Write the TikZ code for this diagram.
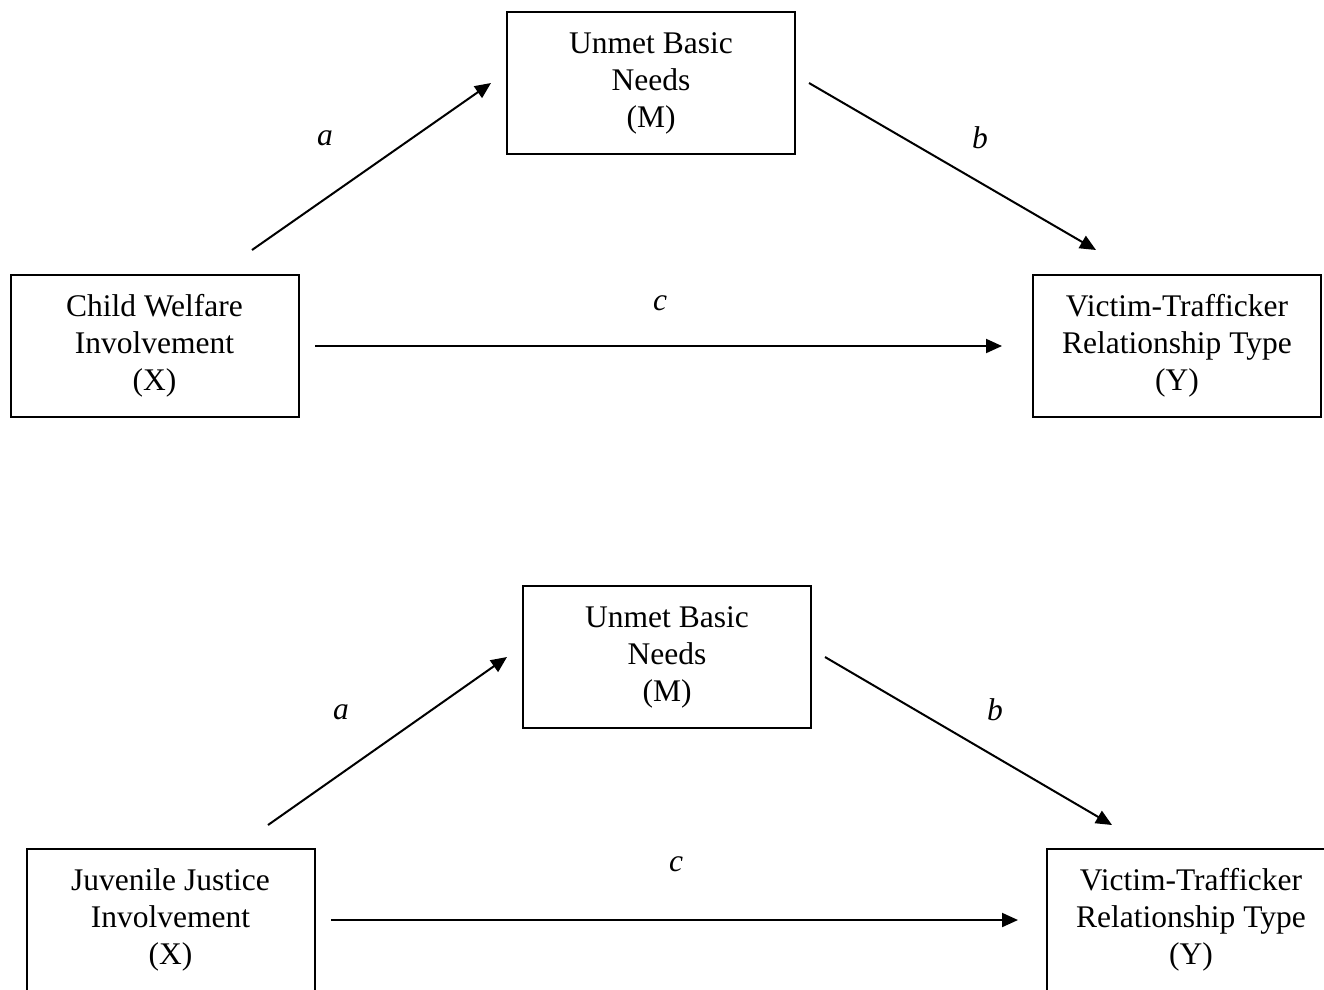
\documentclass[tikz,border=0pt]{standalone}
\usepackage{fontspec}
\setmainfont{Liberation Serif}
\usetikzlibrary{arrows.meta}
\begin{document}
\begin{tikzpicture}[x=1pt,y=-1pt,
  box/.style={draw, line width=2pt, minimum width=288pt, minimum height=142pt, inner sep=0pt, align=center, font=\fontsize{31.5}{37}\selectfont},
  lbl/.style={font=\fontsize{31.5}{37}\selectfont\itshape, inner sep=0pt},
  arr/.style={line width=2pt, -{Triangle[length=16pt,width=14pt]}}]
\clip (0,0) rectangle (1324,989);
% ---------- top model ----------
\node[box] (M1) at (651,83) {Unmet Basic\\Needs\\(M)};
\node[box] (X1) at (154.5,346) {Child Welfare\\Involvement\\(X)};
\node[box] (Y1) at (1177,346) {Victim-Trafficker\\Relationship Type\\(Y)};
\coordinate (a1s) at (252,250);
\coordinate (a1e) at (491,83);
\coordinate (b1s) at (809,83);
\coordinate (b1e) at (1096,250);
\coordinate (c1s) at (315,346);
\coordinate (c1e) at (1002,346);
\draw[arr] (a1s) -- (a1e);
\draw[arr] (b1s) -- (b1e);
\draw[arr] (c1s) -- (c1e);
\node[lbl] (la1) at (325,138) {a};
\node[lbl] (lb1) at (980,138) {b};
\node[lbl] (lc1) at (660,303) {c};
% ---------- bottom model ----------
\node[box] (M2) at (667,657) {Unmet Basic\\Needs\\(M)};
\node[box] (X2) at (170.5,920) {Juvenile Justice\\Involvement\\(X)};
\node[box] (Y2) at (1191,920) {Victim-Trafficker\\Relationship Type\\(Y)};
\coordinate (a2s) at (268,825);
\coordinate (a2e) at (507,657);
\coordinate (b2s) at (825,657);
\coordinate (b2e) at (1112,825);
\coordinate (c2s) at (331,920);
\coordinate (c2e) at (1018,920);
\draw[arr] (a2s) -- (a2e);
\draw[arr] (b2s) -- (b2e);
\draw[arr] (c2s) -- (c2e);
\node[lbl] (la2) at (341,712) {a};
\node[lbl] (lb2) at (995,710) {b};
\node[lbl] (lc2) at (676,864) {c};
\end{tikzpicture}
\end{document}
